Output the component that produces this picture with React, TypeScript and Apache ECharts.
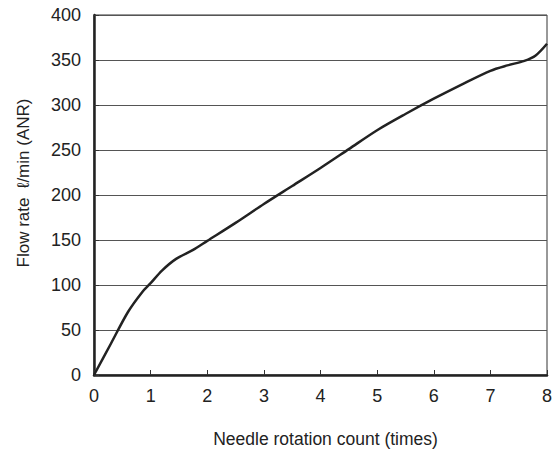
import React, { useEffect, useRef } from "react";
import * as echarts from "echarts";

const rotationCount = [0, 0.3, 0.6, 0.85, 1.0, 1.2, 1.45, 1.75, 2.0, 2.5, 3.0, 3.5, 4.0, 4.5, 5.0, 5.5, 6.0, 6.5, 7.0, 7.3, 7.6, 7.8, 8.0];
const flowRate = [0, 35, 70, 92, 102, 116, 129, 139, 149, 169, 190, 210, 230, 251, 272, 290, 307, 323, 338, 344, 349, 355, 368];

const xName = "Needle rotation count (times)";
const yName = "Flow rate  ℓ/min (ANR)";

export default function App() {
  const ref = useRef<HTMLDivElement>(null);
  useEffect(() => {
    if (!ref.current) return;
    const chart = echarts.init(ref.current, undefined, { renderer: "svg" });
    const font = "Liberation Sans, Arial, sans-serif";
    chart.setOption({
      animation: false,
      backgroundColor: "#fff",
      grid: {
        left: 94,
        top: 15,
        right: 10,
        bottom: 83,
        show: true,
        borderColor: "#333",
        borderWidth: 1,
      },
      xAxis: {
        type: "value",
        min: 0,
        max: 8,
        interval: 1,
        name: xName,
        nameLocation: "middle",
        nameGap: 55,
        nameTextStyle: { fontFamily: font, fontSize: 17.5, color: "#222", padding: [0, 0, 0, 10] },
        axisLine: { show: true, lineStyle: { color: "#222", width: 2.5 } },
        axisTick: { show: true, inside: true, length: 5, lineStyle: { color: "#333", width: 1 } },
        axisLabel: { fontFamily: font, fontSize: 18, color: "#222", margin: 12 },
        splitLine: { show: false },
      },
      yAxis: {
        type: "value",
        min: 0,
        max: 400,
        interval: 50,
        name: yName,
        nameLocation: "middle",
        nameGap: 62,
        nameTextStyle: { fontFamily: font, fontSize: 17, color: "#222", padding: [0, 0, 0, 24] },
        axisLine: { show: true, lineStyle: { color: "#222", width: 2.5 } },
        axisTick: { show: true, inside: true, length: 5, lineStyle: { color: "#333", width: 1 } },
        axisLabel: { fontFamily: font, fontSize: 18, color: "#222", margin: 13 },
        splitLine: { show: true, lineStyle: { color: "#555", width: 1 } },
      },
      series: [
        {
          type: "line",
          data: rotationCount.map((x, i) => [x, flowRate[i]]),
          smooth: 0.3,
          showSymbol: false,
          symbol: "none",
          lineStyle: { color: "#222", width: 2.5 },
        },
      ],
    });
    return () => chart.dispose();
  }, []);
  return (
    <div
      ref={ref}
      style={{ position: "fixed", left: 0, top: 0, width: 557, height: 458 }}
    />
  );
}
